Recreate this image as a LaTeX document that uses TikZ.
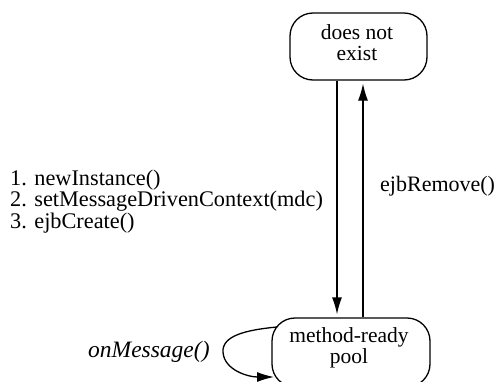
\documentclass[tikz,border=0pt]{standalone}
\usepackage{fontspec}
\setmainfont{Liberation Serif}
\usetikzlibrary{arrows.meta}
\begin{document}
\begin{tikzpicture}[x=1pt,y=1pt,
  state/.style={draw, line width=1.3pt, rounded corners=23pt, inner sep=0pt},
  lbl/.style={font=\fontsize{21.5}{21}\selectfont, inner sep=0pt},
  flow/.style={line width=1.3pt, -{Latex[length=17pt,width=10pt]}}]
\useasboundingbox (0,0) rectangle (496,-381);
% states: outline nodes with their captions
\node[state, minimum width=137pt, minimum height=67pt] (gone) at (358.5,-46.5) {};
\node[lbl, align=center] (goneText) at (357,-43) {does not\\exist};
\node[state, minimum width=158pt, minimum height=69pt] (pool) at (351,-352.5) {};
\node[lbl, align=center] (poolText) at (349,-347.5) {method-ready\\pool};
% transitions
\coordinate (xa) at (337,0);
\coordinate (xb) at (363,0);
\draw[flow, shorten >=3pt] (gone.south -| xa) -- (pool.north -| xa);
\draw[flow, shorten >=3pt] (pool.north -| xb) -- (gone.south -| xb);
\coordinate (ls) at (277,-327);
\coordinate (le) at (274,-377);
\draw[flow] (ls) .. controls (245,-330) and (222,-336) .. (223,-352)
  .. controls (224,-370) and (248,-377) .. (le);
% labels
\node[lbl, anchor=north west, align=left, font=\fontsize{22.3}{19.5}\selectfont] (create) at (10,-170)
  {1. newInstance()\\2. setMessageDrivenContext(mdc)\\3. ejbCreate()};
\node[lbl, anchor=base west, font=\fontsize{22}{22}\selectfont] (remove) at (380,-191) {ejbRemove()};
\node[lbl, anchor=base west, font=\fontsize{23.5}{23.5}\selectfont\itshape] (msg) at (88,-357) {onMessage()};
\end{tikzpicture}
\end{document}
